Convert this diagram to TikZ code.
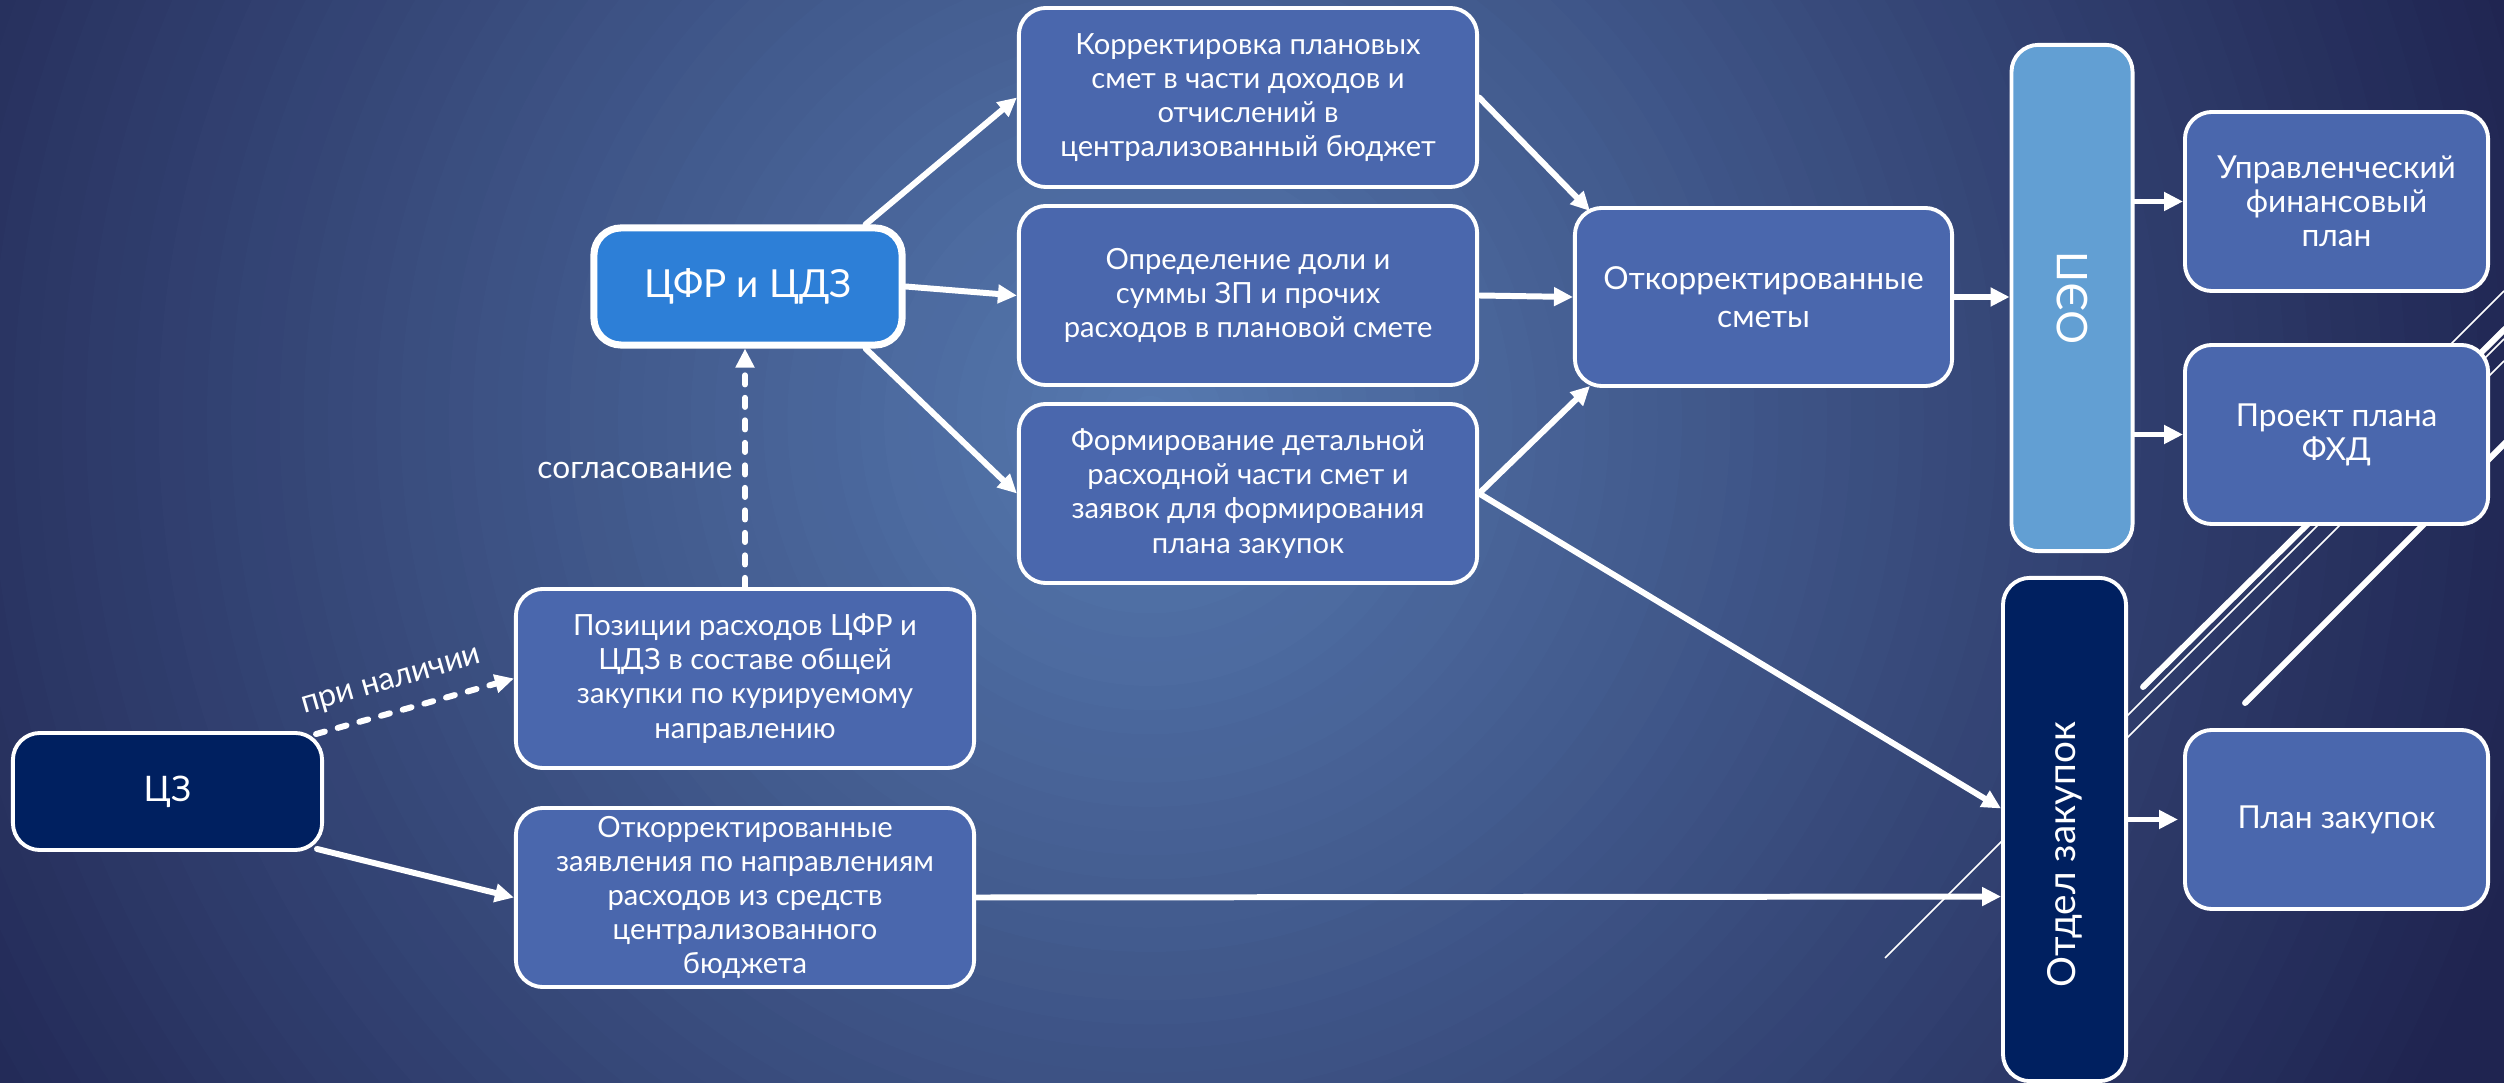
\documentclass[tikz,border=0pt]{standalone}
\usepackage{fontspec}
\usepackage{graphicx}
\setmainfont{Lato}
\usetikzlibrary{arrows.meta,calc}
\definecolor{boxblue}{HTML}{4A67AD}
\definecolor{cfrblue}{HTML}{2D7FD7}
\definecolor{oepblue}{HTML}{629FD3}
\definecolor{navy}{HTML}{002060}
\definecolor{bgA}{HTML}{5679B0}
\definecolor{bgE}{HTML}{1F2450}
\newcommand\bodyf{\fontsize{8.3}{9.7}\selectfont}
\newcommand\rightf{\fontsize{9}{9.7}\selectfont}
\begin{document}
\begin{tikzpicture}[x=0.01cm,y=-0.01cm,
  box/.style={draw=white, line width=1.1pt, rounded corners=0.27cm, fill=boxblue, text=white, align=center, inner sep=0pt, font=\bodyf},
  wbox/.style={box, minimum width=4.58cm, minimum height=1.79cm},
  rbox/.style={box, minimum width=3.03cm, minimum height=1.79cm, font=\rightf},
  arr/.style={draw=white, line width=1.7pt, line cap=round, -{Triangle[length=0.19cm,width=0.18cm]}},
  darr/.style={arr, dash pattern=on 2.6pt off 3.8pt},
  decothin/.style={draw=white, line width=0.45pt},
  decothick/.style={draw=white, line width=1.7pt, line cap=round},
  lbl/.style={text=white, inner sep=0pt, font=\fontsize{9}{11}\selectfont}]
\useasboundingbox (0,0) rectangle (2504,1083);
\begin{scope}
  \clip (0,0) rectangle (2504,1083);
  \fill[bgE] (0,0) rectangle (2504,1083);
  \foreach \i in {0,...,59}{
    \pgfmathtruncatemacro\pct{100*\i/59}
    \pgfmathsetmacro\rad{14.5*(1-\i/60)}
    \fill[bgA!\pct!bgE] (1150,420) circle (\rad cm);
  }
  % decorative lines
  \draw[decothin] (1885,958) -- (2504,339);
  \draw[decothin] (2060,805) -- (2504,361);
  \draw[decothick] (2143,687) -- (2510,324);
  \draw[decothick] (2245,703) -- (2510,438);
  \draw[decothin] (2430,365) -- (2504,291);
\end{scope}

% boxes
\node[box, minimum width=3.09cm, minimum height=1.17cm, fill=navy, font=\fontsize{10}{12}\selectfont] (cz) at (167.5,791.5) {ЦЗ};
\node[wbox] (poz) at (745,678.5) {Позиции расходов ЦФР и\\ЦДЗ в составе общей\\закупки по курируемому\\направлению};
\node[wbox] (zay) at (745,897.5) {Откорректированные\\заявления по направлениям\\расходов из средств\\централизованного\\бюджета};
\node[box, minimum width=3.08cm, minimum height=1.17cm, fill=cfrblue, line width=2pt, font=\fontsize{11}{13}\selectfont] (cfr) at (748,286.5) {ЦФР и ЦДЗ};
\node[wbox] (kor) at (1248,97.5) {Корректировка плановых\\смет в части доходов и\\отчислений в\\централизованный бюджет};
\node[wbox] (opr) at (1248,295.5) {Определение доли и\\суммы ЗП и прочих\\расходов в плановой смете};
\node[wbox] (form) at (1248,493.5) {Формирование детальной\\расходной части смет и\\заявок для формирования\\плана закупок};
\node[box, minimum width=3.77cm, minimum height=1.78cm, font=\fontsize{9}{11}\selectfont] (sm) at (1763.5,297) {Откорректированные\\сметы};
\node[box, minimum width=1.21cm, minimum height=5.06cm, fill=oepblue, font=\fontsize{12}{14}\selectfont] (oep) at (2072,298) {\rotatebox{90}{ОЭП}};
\node[box, minimum width=1.23cm, minimum height=5.03cm, fill=navy, font=\fontsize{11}{13}\selectfont] (otd) at (2064.5,829.5) {\raisebox{0pt}{\rotatebox{90}{\hspace{0pt}Отдел закупок\hspace{0.5cm}}}};
\node[rbox] (upr) at (2336.5,201.5) {Управленческий\\финансовый\\план};
\node[rbox] (pro) at (2336.5,434.5) {Проект плана\\ФХД};
\node[rbox] (plan) at (2336.5,819.5) {План закупок};

% connectors
\draw[darr] ([xshift=-0.08cm,yshift=-0.03cm]cz.north east) -- (poz.west);
\draw[arr] ([xshift=-0.07cm,yshift=0.03cm]cz.south east) -- (zay.west);
\draw[darr] (poz.north) -- (poz.north |- cfr.south);
\draw[arr] ([xshift=-0.4cm]cfr.north east) -- (kor.west);
\draw[arr] (cfr.east) -- (opr.west);
\draw[arr] ([xshift=-0.4cm]cfr.south east) -- (form.west);
\draw[arr] (kor.east) -- ([xshift=0.17cm,yshift=-0.05cm]sm.north west);
\draw[arr] (opr.east) -- (sm.west);
\draw[arr] (form.east) -- ([xshift=0.17cm,yshift=0.02cm]sm.south west);
\draw[arr] (form.east) -- ([yshift=0.21cm]otd.west);
\draw[arr] (zay.east) -- ([yshift=-0.67cm]otd.west);
\draw[arr] (sm.east) -- (oep.west |- sm.east);
\draw[arr] (oep.east |- upr.west) -- (upr.west);
\draw[arr] (oep.east |- pro.west) -- (pro.west);
\draw[arr] (otd.east |- plan.west) -- ([xshift=-0.05cm]plan.west);

% labels
\node[lbl] (lsog) at (635,470) {согласование};
\node[lbl, rotate=16] (lpri) at (392,683) {при наличии};
\end{tikzpicture}
\end{document}
